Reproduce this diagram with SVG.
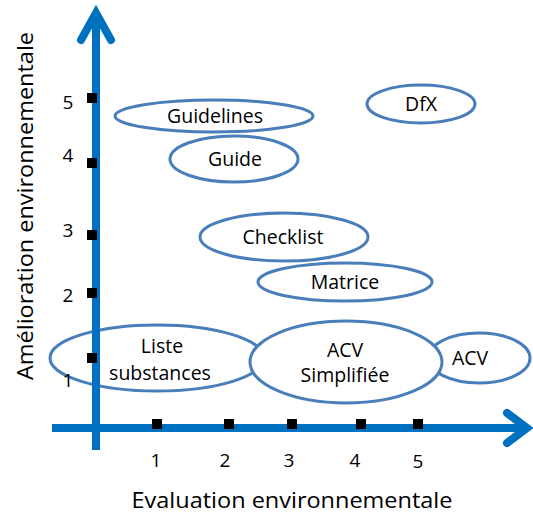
<svg xmlns="http://www.w3.org/2000/svg" width="533" height="516" viewBox="0 0 533 516">
<style>
.n ellipse{fill:#fff;stroke:#4a7ebb;stroke-width:3}
text{font-family:"Open Sans","Liberation Sans",sans-serif;fill:#000}
.l{font-size:19.5px;text-anchor:middle}
.t{font-size:19px;text-anchor:middle}
.ax{font-size:21px;text-anchor:middle}
.axis{stroke:#0070c0;stroke-width:8;fill:none}
.head{stroke:#0070c0;stroke-width:8;fill:none;stroke-linecap:round;stroke-linejoin:miter}
.tick{fill:#000}
</style>
<rect width="533" height="516" fill="#fff"/>
<g id="n-guidelines" class="n"><ellipse cx="214" cy="116" rx="99" ry="16"/><text class="l" x="215" y="123">Guidelines</text></g>
<g id="n-guide" class="n"><ellipse cx="234" cy="159" rx="64" ry="23"/><text class="l" x="235" y="166">Guide</text></g>
<g id="n-dfx" class="n"><ellipse cx="421" cy="104" rx="54" ry="19"/><text class="l" x="421" y="111">DfX</text></g>
<g id="n-checklist" class="n"><ellipse cx="284" cy="237" rx="84" ry="24"/><text class="l" x="283" y="244">Checklist</text></g>
<g id="n-matrice" class="n"><ellipse cx="345" cy="282" rx="87" ry="19"/><text class="l" x="345" y="289">Matrice</text></g>
<g id="n-liste" class="n"><ellipse cx="157" cy="358" rx="107" ry="33"/><text class="l" x="162" y="353">Liste</text><text class="l" x="160" y="380">substances</text></g>
<g id="n-acv" class="n"><ellipse cx="479" cy="358" rx="51" ry="25"/><text class="l" x="470" y="365">ACV</text></g>
<g id="n-acvs" class="n"><ellipse cx="346" cy="362" rx="96" ry="41"/><text class="l" x="345" y="357">ACV</text><text class="l" x="345" y="382">Simplifiée</text></g>
<g id="connectors">
<line class="axis" x1="96" y1="14" x2="96" y2="450"/>
<polyline class="head" points="81,40 96,13 111,40"/>
<line class="axis" x1="52" y1="428" x2="526" y2="428"/>
<polyline class="head" points="507,413 527,428 507,443"/>
</g>
<g id="ticks" class="tick">
<rect x="87" y="93" width="10" height="10"/>
<rect x="87" y="158" width="10" height="10"/>
<rect x="87" y="230" width="10" height="10"/>
<rect x="87" y="288" width="10" height="10"/>
<rect x="87" y="353" width="10" height="10"/>
<rect x="152" y="419" width="10" height="10"/>
<rect x="224" y="419" width="10" height="10"/>
<rect x="287" y="419" width="10" height="10"/>
<rect x="356" y="419" width="10" height="10"/>
<rect x="413" y="419" width="10" height="10"/>
</g>
<g id="labels">
<text class="t" x="68" y="109">5</text>
<text class="t" x="68" y="162">4</text>
<text class="t" x="68" y="237">3</text>
<text class="t" x="68" y="302">2</text>
<text class="t" x="68" y="387">1</text>
<text class="t" x="156" y="467">1</text>
<text class="t" x="225" y="467">2</text>
<text class="t" x="289" y="467">3</text>
<text class="t" x="355" y="467">4</text>
<text class="t" x="418" y="468">5</text>
<text class="ax" x="292" y="508" textLength="321" lengthAdjust="spacingAndGlyphs">Evaluation environnementale</text>
<text class="ax" transform="translate(33,206) rotate(-90)" x="0" y="0" textLength="348" lengthAdjust="spacingAndGlyphs">Amélioration environnementale</text>
</g>
</svg>
